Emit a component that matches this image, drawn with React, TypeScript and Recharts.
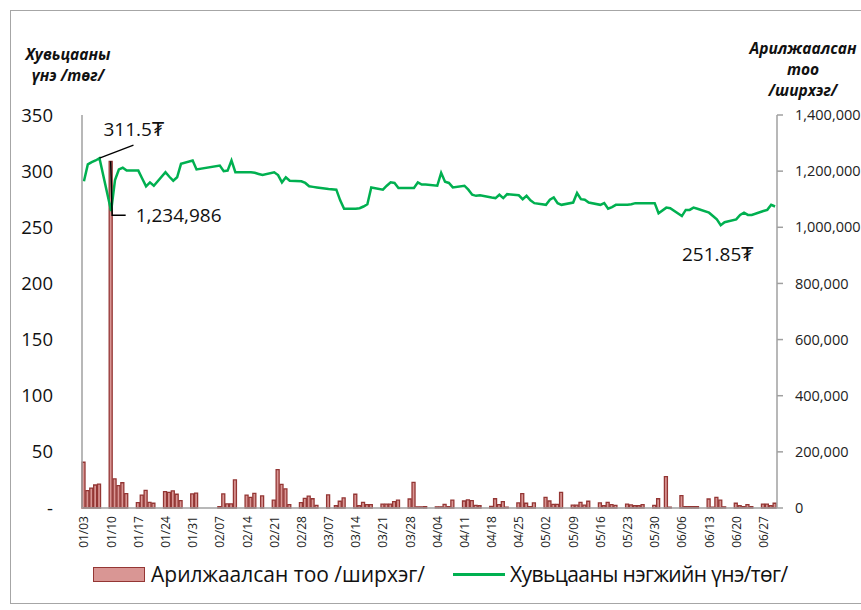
import React from "react";
import { ComposedChart, Bar, Line, XAxis, YAxis } from "recharts";

// Calendar axis: 2022-01-03 .. 2022-06-30, one slot per day (weekends empty)
const START_YEAR = 2022;
const START_MONTH = 0;
const START_DAY = 3;
const DAY_COUNT = 179;

// Traded shares, Mon..Fri for each week starting 01/03 (null = holiday)
const volumeByWeek: (number | null)[][] = [
  [163000, 62000, 71000, 82000, 85000],
  [1234986, 104000, 80000, 90000, 51000],
  [19000, 46000, 63000, 20000, 17000],
  [58000, 56000, 61000, 49000, 26000],
  [50000, 53000, null, null, null],
  [5000, 50000, 15000, 15000, 100000],
  [46000, 38000, 52000, 0, 43000],
  [28000, 137000, 84000, 68000, 12000],
  [19000, 34000, 42000, 33000, 9000],
  [47000, null, 8000, 24000, 36000],
  [49000, 8000, 20000, 12000, 12000],
  [14000, 14000, 14000, 23000, 28000],
  [32000, 91000, 4000, 4000, 5000],
  [4000, 4000, 13000, 5000, 28000],
  [25000, 29000, 26000, 9000, 8000],
  [6000, 33000, 12000, 23000, 3000],
  [18000, 51000, 17000, 5000, 18000],
  [38000, 25000, 13000, 13000, 56000],
  [10000, 10000, 20000, 10000, 24000],
  [18000, 8000, 20000, 12000, 9000],
  [14000, 11000, 8000, 8000, 12000],
  [9000, 33000, null, 112000, 3000],
  [44000, 5000, 5000, 5000, 5000],
  [32000, 3000, 38000, 28000, 4000],
  [17000, 8000, 5000, 12000, 5000],
  [14000, 14000, 8000, 17000],
];

// Share price (MNT), same week layout
const priceByWeek: (number | null)[][] = [
  [291, 306, 308, 309.5, 311.5],
  [264.5, 292, 301.5, 303, 300.5],
  [300.5, 293.5, 286.5, 290, 287],
  [299, 295, 291.5, 294.5, 306.5],
  [309.5, 301.5, null, null, null],
  [305, 300, 300.5, 309.5, 299],
  [299, 299, 298.5, 297.5, 296.5],
  [299, 296.5, 290, 294.5, 291.5],
  [291, 289.5, 286.5, 286, 285.5],
  [284, null, 283.5, 274, 266.5],
  [266.5, 267, 268.5, 270.5, 285.5],
  [283.5, 287, 290, 289.5, 285],
  [285, 285, 290, 288, 288],
  [287, 298.5, 290.5, 289.5, 285.5],
  [287, 283.5, 279, 278, 278.5],
  [276.5, 276, 279, 276, 279.5],
  [278.5, 275, 278, 274, 271.5],
  [270, 274.5, 276.5, 271.5, 270],
  [272, 280.5, 275, 274.5, 272],
  [270, 271.5, 266.5, 268, 270],
  [270, 270.5, 271.5, 271.5, 271.5],
  [271.5, 262.5, null, 267.5, 267],
  [260, 265.5, 265.5, 267.5, 266.5],
  [263, 260, 257, 251.85, 254.5],
  [257, 261, 263, 261, 261],
  [264.5, 265.5, 270, 268.5],
];

const priceTicks = [0, 50, 100, 150, 200, 250, 300, 350];
const volumeTicks = [0, 200000, 400000, 600000, 800000, 1000000, 1200000, 1400000];

const MAX_PRICE = 311.5;
const MIN_PRICE = 251.85;
const PEAK_VOLUME = 1234986;

const pad = (n: number) => String(n).padStart(2, "0");

const data = Array.from({ length: DAY_COUNT }, (_, i) => {
  const d = new Date(START_YEAR, START_MONTH, START_DAY + i);
  const week = Math.floor(i / 7);
  const wd = i % 7;
  const volume = wd < 5 ? volumeByWeek[week]?.[wd] ?? null : null;
  const price = wd < 5 ? priceByWeek[week]?.[wd] ?? null : null;
  return {
    label: `${pad(d.getMonth() + 1)}/${pad(d.getDate())}`,
    volume,
    price,
  };
});

const FONT = "'Open Sans', 'DejaVu Sans', sans-serif";

const DateTick = (props: any) => {
  const { x, y, payload } = props;
  return (
    <text
      x={x}
      y={y}
      transform={`rotate(-90, ${x}, ${y})`}
      textAnchor="end"
      dominantBaseline="central"
      fontSize={12}
      fontFamily={FONT}
      fill="#222"
    >
      {payload.value}
    </text>
  );
};

const PriceNote = (props: any) => {
  const { x, y, value } = props;
  if (x == null || y == null) return null;
  if (value === MAX_PRICE) {
    return (
      <g>
        <line x1={x} y1={y} x2={x + 34} y2={y - 13} stroke="#000" strokeWidth={1.3} />
        <text x={x + 4} y={y - 22} fontSize={19} fontFamily={FONT} fill="#111">
          311.5₮
        </text>
      </g>
    );
  }
  if (value === MIN_PRICE) {
    return (
      <text x={x - 3} y={y + 36} textAnchor="middle" fontSize={19} fontFamily={FONT} fill="#111">
        251.85₮
      </text>
    );
  }
  return null;
};

const VolumeNote = (props: any) => {
  const { x, y, width, value } = props;
  if (value !== PEAK_VOLUME) return null;
  const cx = x + width / 2;
  return (
    <g>
      <polyline
        points={`${cx},${y} ${cx + 1.5},${y + 54} ${cx + 15},${y + 54}`}
        fill="none"
        stroke="#000"
        strokeWidth={1.5}
      />
      <text x={cx + 25} y={y + 54} dominantBaseline="central" fontSize={19} fontFamily={FONT} fill="#111">
        1,234,986
      </text>
    </g>
  );
};

export default function App() {
  return (
    <div style={{ position: "relative", width: 861, height: 610, overflow: "hidden", fontFamily: FONT }}>
      <style>{`body{margin:0;overflow:hidden}`}</style>
      <div
        style={{
          position: "absolute",
          left: 10,
          top: 10,
          width: 900,
          height: 592,
          border: "1px solid #a6a6a6",
        }}
      />
      {/* axis titles */}
      <div
        style={{
          position: "absolute",
          left: 10,
          top: 44,
          width: 116,
          textAlign: "center",
          fontSize: 15.5,
          fontWeight: 700,
          fontStyle: "italic",
          lineHeight: "21px",
          color: "#111",
        }}
      >
        Хувьцааны
        <br />
        үнэ /төг/
      </div>
      <div
        style={{
          position: "absolute",
          left: 740,
          top: 38,
          width: 126,
          textAlign: "center",
          fontSize: 15.5,
          fontWeight: 700,
          fontStyle: "italic",
          lineHeight: "21px",
          color: "#111",
        }}
      >
        Арилжаалсан
        <br />
        тоо
        <br />
        /ширхэг/
      </div>

      <div style={{ position: "absolute", left: 0, top: 0 }}>
        <ComposedChart
          width={861}
          height={610}
          data={data}
          margin={{ top: 115, right: 0, bottom: 52, left: 0 }}
          barCategoryGap={0}
          barGap={0}
        >
          <XAxis
            dataKey="label"
            interval={6}
            height={50}
            tickLine={false}
            tickSize={0}
            tickMargin={8}
            axisLine={{ stroke: "#a0a0a0", strokeWidth: 1.5 }}
            tick={<DateTick />}
          />
          <YAxis
            yAxisId="price"
            orientation="left"
            width={82}
            domain={[0, 350]}
            ticks={priceTicks}
            tickLine={false}
            tickSize={0}
            tickMargin={29}
            axisLine={{ stroke: "#a0a0a0", strokeWidth: 1.5 }}
            tick={{ fontSize: 18.5, fill: "#111", fontFamily: FONT }}
            tickFormatter={(v: number) => (v === 0 ? "-" : String(v))}
          />
          <YAxis
            yAxisId="volume"
            orientation="right"
            width={84}
            domain={[0, 1400000]}
            ticks={volumeTicks}
            tickSize={6}
            tickMargin={12}
            tickLine={{ stroke: "#a0a0a0", strokeWidth: 1.5 }}
            axisLine={{ stroke: "#a0a0a0", strokeWidth: 1.5 }}
            tick={{ fontSize: 14.5, fill: "#222", fontFamily: FONT }}
            tickFormatter={(v: number) => v.toLocaleString("en-US")}
          />
          <Bar
            yAxisId="volume"
            dataKey="volume"
            barSize={3}
            fill="#d99694"
            stroke="#943634"
            strokeWidth={1.3}
            isAnimationActive={false}
            label={<VolumeNote />}
          />
          <Line
            yAxisId="price"
            dataKey="price"
            type="linear"
            stroke="#00b050"
            strokeWidth={2.5}
            dot={false}
            connectNulls
            isAnimationActive={false}
            label={<PriceNote />}
          />
        </ComposedChart>
      </div>

      {/* legend */}
      <div
        style={{
          position: "absolute",
          left: 93,
          top: 560,
          display: "flex",
          alignItems: "center",
          fontSize: 21,
          color: "#111",
          whiteSpace: "nowrap",
        }}
      >
        <span
          style={{
            display: "inline-block",
            width: 50,
            height: 13,
            background: "#d99694",
            border: "1px solid #943634",
            marginRight: 6,
          }}
        />
        <span>Арилжаалсан тоо /ширхэг/</span>
        <span
          style={{
            display: "inline-block",
            width: 52,
            height: 3,
            background: "#00b050",
            marginLeft: 28,
            marginRight: 5,
          }}
        />
        <span style={{ letterSpacing: -0.6 }}>Хувьцааны нэгжийн үнэ/төг/</span>
      </div>
    </div>
  );
}
